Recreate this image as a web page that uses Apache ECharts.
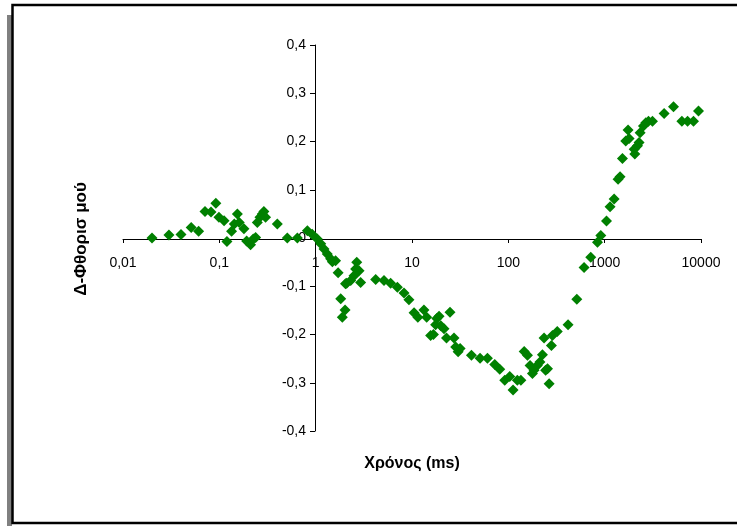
<!DOCTYPE html>
<html>
<head>
<meta charset="utf-8">
<script src="https://cdn.jsdelivr.net/npm/echarts@6/dist/echarts.min.js"></script>
<style>
  html, body { margin: 0; padding: 0; background: #fff; }
  #chart { width: 737px; height: 526px; }
</style>
</head>
<body>
<div id="chart"></div>
<script>
// χρόνος (ms) και Δ-φθορισμού, διαβασμένα από το γράφημα
const timeMs = [
  0.02, 0.03, 0.04, 0.051, 0.061, 0.071, 0.082, 0.092, 0.099, 0.112,
  0.12, 0.134, 0.143, 0.154, 0.161, 0.18, 0.192, 0.211, 0.225, 0.238,
  0.248, 0.264, 0.279, 0.29, 0.302, 0.40, 0.508, 0.646, 0.82, 0.92,
  1.04, 1.13, 1.22, 1.32, 1.43, 1.49, 1.61, 1.71, 1.82, 1.89,
  2.02, 2.04, 2.1, 2.31, 2.5, 2.6, 2.67, 2.82, 2.93, 4.2,
  5.12, 6.0, 7.05, 8.26, 9.3, 10.5, 11.5, 13.3, 14.2, 15.6,
  16.7, 17.6, 18.1, 19.1, 19.9, 21.5, 22.8, 24.8, 27.3, 28.4,
  30.1, 31.6, 41.4, 50.9, 60.7, 72.3, 81.4, 91.8, 103.5, 112,
  124, 135, 146, 158, 168, 178, 185, 200, 213, 226,
  235, 244, 255, 265, 280, 287, 322, 417, 514, 611,
  717, 842, 912, 1045, 1138, 1253, 1378, 1445, 1530, 1656,
  1750, 1793, 2024, 2056, 2192, 2277, 2333, 2528, 2673, 2851,
  3135, 4140, 5180, 6330, 7250, 8360, 9420
];
const deltaF = [
  0.000, 0.006, 0.007, 0.022, 0.014, 0.055, 0.054, 0.072, 0.043, 0.036,
  -0.007, 0.014, 0.029, 0.050, 0.032, 0.019, -0.006, -0.014, -0.002, 0.001,
  0.032, 0.043, 0.050, 0.055, 0.043, 0.029, 0.000, 0.000, 0.015, 0.008,
  -0.002, -0.012, -0.023, -0.033, -0.043, -0.049, -0.047, -0.072, -0.126, -0.164,
  -0.149, -0.095, -0.094, -0.088, -0.078, -0.064, -0.050, -0.068, -0.092, -0.086,
  -0.088, -0.094, -0.102, -0.114, -0.128, -0.155, -0.164, -0.149, -0.164, -0.202,
  -0.200, -0.180, -0.167, -0.162, -0.182, -0.188, -0.207, -0.154, -0.207, -0.226,
  -0.236, -0.229, -0.243, -0.249, -0.249, -0.262, -0.272, -0.295, -0.287, -0.315,
  -0.295, -0.295, -0.235, -0.243, -0.264, -0.281, -0.274, -0.264, -0.257, -0.242,
  -0.207, -0.274, -0.271, -0.302, -0.223, -0.202, -0.194, -0.180, -0.127, -0.061,
  -0.040, -0.009, 0.005, 0.035, 0.065, 0.081, 0.122, 0.127, 0.165, 0.201,
  0.224, 0.206, 0.184, 0.174, 0.191, 0.198, 0.218, 0.232, 0.239, 0.242,
  0.242, 0.258, 0.272, 0.242, 0.242, 0.242, 0.263
];
const xTitle = 'Χρόνος (ms)';
const yTitle = 'Δ-Φθορισ μού';

const points = timeMs.map((t, i) => [t, deltaF[i]]);

// 0.1 -> "0,1"
const commaNum = (v) => String(Number(v.toPrecision(6))).replace('.', ',');

const chart = echarts.init(document.getElementById('chart'));
const option = {
  animation: false,
  textStyle: { fontFamily: 'Liberation Sans, Arial, sans-serif' },
  grid: {
    left: 123,
    right: 36,
    top: 45,
    bottom: 95,
    outerBoundsMode: 'none',
  },
  xAxis: {
    type: 'log',
    logBase: 10,
    min: 0.01,
    max: 10000,
    position: 'bottom',
    offset: -192, // ο άξονας κόβει στο 0
    axisLine: { onZero: false, lineStyle: { color: '#000', width: 1 } },
    axisTick: { show: true, length: 4, lineStyle: { color: '#000' } },
    minorTick: { show: false },
    splitLine: { show: false },
    axisLabel: {
      color: '#000',
      fontSize: 14,
      margin: 17,
      formatter: commaNum,
    },
  },
  yAxis: {
    type: 'value',
    min: -0.4,
    max: 0.4,
    interval: 0.1,
    position: 'left',
    offset: -192, // ο άξονας κόβει στο 1 ms
    axisLine: { show: true, onZero: false, lineStyle: { color: '#000', width: 1 } },
    axisTick: { show: true, length: 5, lineStyle: { color: '#000' } },
    splitLine: { show: false },
    axisLabel: {
      color: '#000',
      fontSize: 14,
      margin: 9,
      formatter: (v) => (Math.abs(v) < 1e-9 ? '0' : v.toFixed(1).replace('.', ',')),
    },
  },
  series: [
    {
      type: 'scatter',
      data: points,
      symbol: 'diamond',
      symbolSize: 11,
      itemStyle: { color: '#008000', opacity: 1 },
    },
  ],
  graphic: [
    // σκιά αριστερά
    {
      type: 'rect',
      shape: { x: 7, y: 15, width: 5, height: 520 },
      style: { fill: '#808080' },
      silent: true,
    },
    // πλαίσιο
    {
      type: 'rect',
      shape: { x: 12.5, y: 5, width: 740, height: 518 },
      style: { fill: null, stroke: '#000', lineWidth: 2.5 },
      silent: true,
    },
    {
      type: 'text',
      x: 412,
      y: 464,
      style: {
        text: xTitle,
        fill: '#000',
        font: 'bold 16px Liberation Sans, Arial, sans-serif',
        align: 'center',
        verticalAlign: 'middle',
      },
    },
    {
      type: 'text',
      x: 81,
      y: 239,
      rotation: Math.PI / 2,
      style: {
        text: yTitle,
        fill: '#000',
        font: 'bold 17px Liberation Sans, Arial, sans-serif',
        align: 'center',
        verticalAlign: 'middle',
      },
    },
  ],
};
chart.setOption(option);
</script>
</body>
</html>
